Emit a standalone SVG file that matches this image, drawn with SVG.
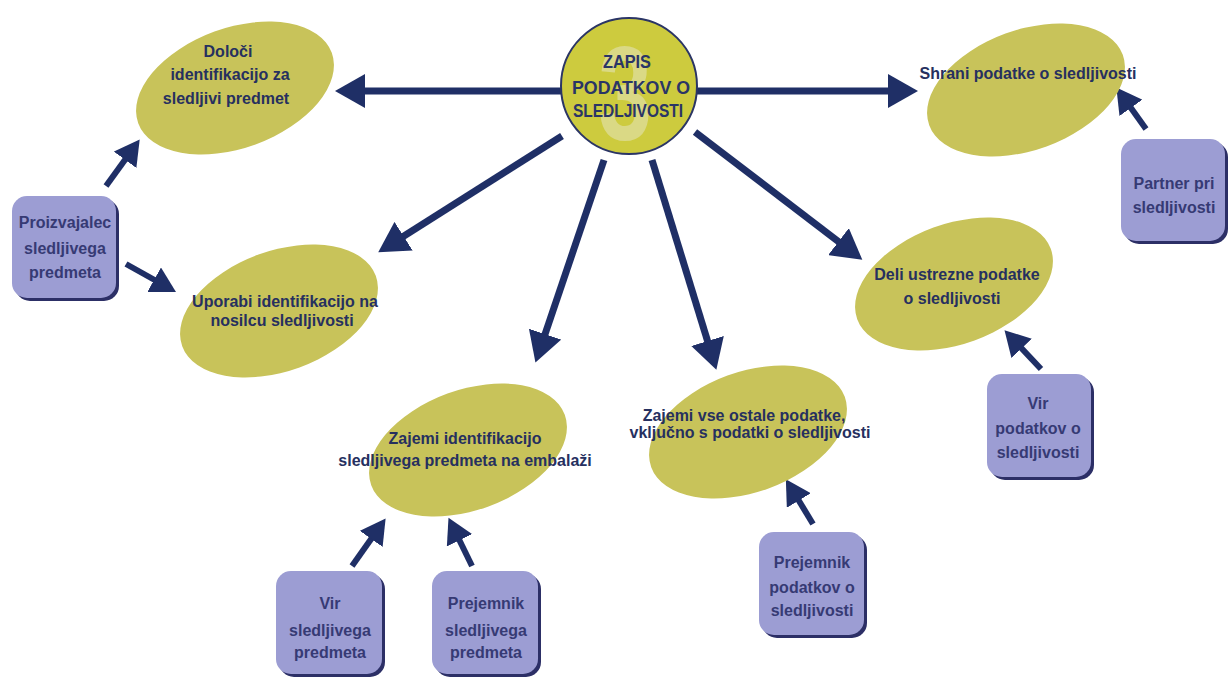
<svg xmlns="http://www.w3.org/2000/svg" width="1228" height="679" viewBox="0 0 1228 679">
<defs>
<style>
.ell{fill:#c8c35a;}
.et{font-family:"Liberation Sans",Arial,sans-serif;font-weight:bold;font-size:16px;fill:#26305f;text-anchor:middle;}
.box{fill:#9c9dd3;}
.sh{fill:#2c2f66;}
.bt{font-family:"Liberation Sans",Arial,sans-serif;font-weight:bold;font-size:16px;fill:#363a74;text-anchor:middle;}
.ct{font-family:"Liberation Sans",Arial,sans-serif;font-weight:bold;font-size:18px;fill:#2a3566;text-anchor:middle;}
.big{stroke:#1f2f66;stroke-width:7;fill:none;marker-end:url(#hb);}
.sm{stroke:#1f2f66;stroke-width:6;fill:none;marker-end:url(#hs);}
</style>
<marker id="hb" markerUnits="userSpaceOnUse" markerWidth="32" markerHeight="34" refX="22" refY="17" orient="auto">
<path d="M0,0 L30,17 L0,34 z" fill="#1f2f66"/>
</marker>
<marker id="hs" markerUnits="userSpaceOnUse" markerWidth="26" markerHeight="28" refX="17" refY="14" orient="auto">
<path d="M0,0 L25,14 L0,28 z" fill="#1f2f66"/>
</marker>
</defs>
<rect width="1228" height="679" fill="#ffffff"/>

<g id="connectors">
<line class="big" x1="562" y1="91" x2="343" y2="91"/>
<line class="big" x1="697" y1="91" x2="910" y2="91"/>
<line class="big" x1="562" y1="136" x2="385" y2="248"/>
<line class="big" x1="604" y1="160" x2="538" y2="355"/>
<line class="big" x1="652" y1="160" x2="714" y2="362"/>
<line class="big" x1="695" y1="132" x2="856" y2="255"/>
<line class="sm" x1="106" y1="186" x2="135" y2="146"/>
<line class="sm" x1="126" y1="264" x2="169" y2="288"/>
<line class="sm" x1="352" y1="566" x2="381" y2="525"/>
<line class="sm" x1="472" y1="566" x2="452" y2="525"/>
<line class="sm" x1="813" y1="524" x2="790" y2="486"/>
<line class="sm" x1="1041" y1="369" x2="1010" y2="336"/>
<line class="sm" x1="1146" y1="129" x2="1121" y2="94"/>
</g>

<g id="center">
<circle cx="629" cy="86" r="68" fill="#cdcb3e" stroke="#2b3565" stroke-width="2"/>
<text x="0" y="0" transform="translate(625,140) scale(0.72,1)" font-family="'Liberation Sans',Arial,sans-serif" font-weight="bold" font-size="134" fill="#dad985" text-anchor="middle">3</text>
<text class="ct" x="627" y="68" textLength="48" lengthAdjust="spacingAndGlyphs">ZAPIS</text>
<text class="ct" x="631" y="94" textLength="118" lengthAdjust="spacingAndGlyphs">PODATKOV O</text>
<text class="ct" x="628" y="117" textLength="110" lengthAdjust="spacingAndGlyphs">SLEDLJIVOSTI</text>
</g>

<g id="n-doloci">
<ellipse class="ell" cx="235" cy="88" rx="103" ry="60" transform="rotate(-20 235 88)"/>
<text class="et" x="228" y="57">Določi</text>
<text class="et" x="230" y="80">identifikacijo za</text>
<text class="et" x="226" y="104">sledljivi predmet</text>
</g>

<g id="n-uporabi">
<ellipse class="ell" cx="279" cy="311" rx="103" ry="60" transform="rotate(-20 279 311)"/>
<text class="et" x="285" y="307">Uporabi identifikacijo na</text>
<text class="et" x="282" y="326">nosilcu sledljivosti</text>
</g>

<g id="n-zajemi-id">
<ellipse class="ell" cx="468" cy="450" rx="103" ry="60" transform="rotate(-20 468 450)"/>
<text class="et" x="465" y="444">Zajemi identifikacijo</text>
<text class="et" x="465" y="466">sledljivega predmeta na embalaži</text>
</g>

<g id="n-zajemi-vse">
<ellipse class="ell" cx="748" cy="432" rx="103" ry="60" transform="rotate(-20 748 432)"/>
<text class="et" x="744" y="421">Zajemi vse ostale podatke,</text>
<text class="et" x="750" y="438">vključno s podatki o sledljivosti</text>
</g>

<g id="n-deli">
<ellipse class="ell" cx="954" cy="284" rx="103" ry="60" transform="rotate(-20 954 284)"/>
<text class="et" x="957" y="280">Deli ustrezne podatke</text>
<text class="et" x="952" y="304">o sledljivosti</text>
</g>

<g id="n-shrani">
<ellipse class="ell" cx="1026" cy="90" rx="103" ry="60" transform="rotate(-20 1026 90)"/>
<text class="et" x="1028" y="79">Shrani podatke o sledljivosti</text>
</g>

<g id="b-proizvajalec">
<rect class="sh" x="15" y="199" width="104" height="102" rx="15"/>
<rect class="box" x="12" y="196" width="104" height="102" rx="15"/>
<text class="bt" x="65" y="228">Proizvajalec</text>
<text class="bt" x="65" y="254">sledljivega</text>
<text class="bt" x="65" y="278">predmeta</text>
</g>

<g id="b-partner">
<rect class="sh" x="1124" y="142" width="104" height="102" rx="15"/>
<rect class="box" x="1121" y="139" width="104" height="102" rx="15"/>
<text class="bt" x="1174" y="189">Partner pri</text>
<text class="bt" x="1174" y="213">sledljivosti</text>
</g>

<g id="b-vir-podatkov">
<rect class="sh" x="990" y="377" width="104" height="103" rx="15"/>
<rect class="box" x="987" y="374" width="104" height="103" rx="15"/>
<text class="bt" x="1038" y="409">Vir</text>
<text class="bt" x="1038" y="434">podatkov o</text>
<text class="bt" x="1038" y="458">sledljivosti</text>
</g>

<g id="b-prejemnik-podatkov">
<rect class="sh" x="762" y="535" width="105" height="103" rx="15"/>
<rect class="box" x="759" y="532" width="105" height="103" rx="15"/>
<text class="bt" x="812" y="568">Prejemnik</text>
<text class="bt" x="812" y="593">podatkov o</text>
<text class="bt" x="812" y="616">sledljivosti</text>
</g>

<g id="b-vir-predmeta">
<rect class="sh" x="279" y="574" width="106" height="103" rx="15"/>
<rect class="box" x="276" y="571" width="106" height="103" rx="15"/>
<text class="bt" x="330" y="609">Vir</text>
<text class="bt" x="330" y="636">sledljivega</text>
<text class="bt" x="330" y="658">predmeta</text>
</g>

<g id="b-prejemnik-predmeta">
<rect class="sh" x="435" y="574" width="106" height="103" rx="15"/>
<rect class="box" x="432" y="571" width="106" height="103" rx="15"/>
<text class="bt" x="486" y="609">Prejemnik</text>
<text class="bt" x="486" y="636">sledljivega</text>
<text class="bt" x="486" y="658">predmeta</text>
</g>
</svg>
